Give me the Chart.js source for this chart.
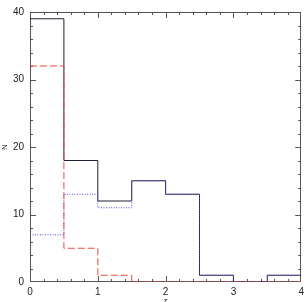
<!DOCTYPE html>
<html>
<head>
<meta charset="utf-8">
<script src="https://cdn.jsdelivr.net/npm/chart.js@4/dist/chart.umd.min.js"></script>
<style>
html,body{margin:0;padding:0;background:#fff;}
#wrap{width:308px;height:302px;position:relative;}
</style>
</head>
<body>
<div id="wrap"><canvas id="c" width="308" height="302"></canvas></div>
<script>
// Histogram bin edges (z) and counts N per bin
const binEdges = [0, 0.5, 1, 1.5, 2, 2.5, 3, 3.5, 4];
const totalCounts = [39, 18, 12, 15, 13, 1, 0, 1];
const blueCounts = [7, 13, 11, 15, 13, 1, 0, 1];
const redCounts = [32, 5, 1, 0, 0, 0, 0, 0];
const xTickLabels = ['0', '1', '2', '3', '4'];
const yTickLabels = ['0', '10', '20', '30', '40'];

function stepPoints(counts) {
  const pts = counts.map((v, i) => ({x: binEdges[i], y: v}));
  pts.push({x: binEdges[binEdges.length - 1], y: counts[counts.length - 1]});
  return pts;
}

const FONT = 'Liberation Sans, Arial, Helvetica, sans-serif';

const framePlugin = {
  id: 'frame',
  beforeDatasetsDraw(chart) {
    const {ctx, chartArea: a, scales: {x, y}} = chart;
    ctx.save();
    ctx.strokeStyle = '#555';
    ctx.lineWidth = 1;
    ctx.strokeRect(Math.round(a.left) + 0.5, Math.round(a.top) + 0.5,
                   Math.round(a.right - a.left) - 1, Math.round(a.bottom - a.top) - 1);
    ctx.beginPath();
    for (let i = 1; i < 20; i++) {
      const v = i * 0.2;
      const px = Math.round(x.getPixelForValue(v)) + 0.5;
      const len = (i % 5 === 0) ? 6 : 3;
      ctx.moveTo(px, a.bottom); ctx.lineTo(px, a.bottom - len);
      ctx.moveTo(px, a.top); ctx.lineTo(px, a.top + len);
    }
    for (let j = 1; j < 20; j++) {
      const v = j * 2;
      const py = Math.round(y.getPixelForValue(v)) + 0.5;
      const len = (j % 5 === 0) ? 6 : 3;
      ctx.moveTo(a.left, py); ctx.lineTo(a.left + len, py);
      ctx.moveTo(a.right, py); ctx.lineTo(a.right - len, py);
    }
    ctx.stroke();
    ctx.restore();
  }
};

new Chart(document.getElementById('c'), {
  type: 'line',
  data: {
    datasets: [
      {
        data: stepPoints(redCounts),
        borderColor: 'rgb(235,75,65)',
        borderWidth: 1,
        borderDash: [7, 3],
        stepped: 'before',
        pointRadius: 0,
        fill: false
      },
      {
        data: stepPoints(blueCounts),
        borderColor: 'rgb(80,80,235)',
        borderWidth: 1,
        borderDash: [1, 1.5],
        stepped: 'before',
        pointRadius: 0,
        fill: false
      },
      {
        data: stepPoints(totalCounts),
        borderColor: 'rgb(30,30,50)',
        borderWidth: 1,
        stepped: 'before',
        pointRadius: 0,
        fill: false
      }
    ]
  },
  options: {
    responsive: false,
    animation: false,
    devicePixelRatio: 1,
    layout: {padding: {top: 7, right: 4, left: 0, bottom: 0}},
    plugins: {legend: {display: false}, tooltip: {enabled: false}},
    scales: {
      x: {
        type: 'linear', min: 0, max: 4,
        grid: {display: false, drawTicks: false},
        border: {display: false},
        ticks: {
          stepSize: 1, padding: 4, maxRotation: 0, autoSkip: false,
          color: '#222', font: {family: FONT, size: 10},
          callback: (v) => xTickLabels[Math.round(v)]
        },
        title: {display: true, text: 'z', color: '#222', font: {family: FONT, size: 8}, padding: {top: 0, bottom: -4}},
        afterFit(s) { s.height = 20; }
      },
      y: {
        type: 'linear', min: 0, max: 40,
        grid: {display: false, drawTicks: false},
        border: {display: false},
        ticks: {
          stepSize: 10, padding: 6,
          color: '#222', font: {family: FONT, size: 10},
          callback: (v) => yTickLabels[Math.round(v / 10)]
        },
        title: {display: true, text: 'N', color: '#222', font: {family: FONT, size: 8}, padding: 0},
        afterFit(s) { s.width = 30; }
      }
    }
  },
  plugins: [framePlugin]
});
</script>
</body>
</html>
